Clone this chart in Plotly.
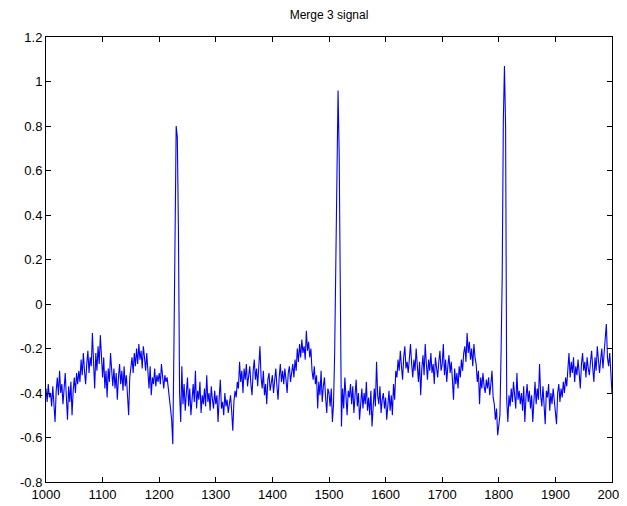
import numpy as np
import plotly.graph_objects as go

# sample index (every 2nd sample from 1000 to 2000)
sample_start = 1000
sample_step = 2

signal = [
    -0.38, -0.44, -0.36, -0.42, -0.40, -0.46, -0.37, -0.43, -0.53, -0.39,
    -0.33, -0.41, -0.30, -0.40, -0.36, -0.45, -0.38, -0.31, -0.42, -0.52,
    -0.37, -0.44, -0.35, -0.50, -0.39, -0.33, -0.40, -0.31, -0.36, -0.30,
    -0.35, -0.25, -0.32, -0.22, -0.30, -0.36, -0.27, -0.21, -0.31, -0.24,
    -0.28, -0.13, -0.26, -0.38, -0.22, -0.30, -0.19, -0.27, -0.14, -0.25,
    -0.33, -0.24, -0.38, -0.30, -0.42, -0.29, -0.35, -0.22, -0.33, -0.37,
    -0.29, -0.38, -0.31, -0.43, -0.33, -0.27, -0.36, -0.30, -0.39, -0.28,
    -0.37, -0.32, -0.41, -0.50, -0.33, -0.27, -0.24, -0.31, -0.22, -0.28,
    -0.20, -0.27, -0.18, -0.25, -0.21, -0.29, -0.19, -0.24, -0.30, -0.22,
    -0.31, -0.38, -0.28, -0.41, -0.33, -0.36, -0.29, -0.37, -0.32, -0.35,
    -0.31, -0.36, -0.27, -0.34, -0.38, -0.32, -0.35, -0.33, -0.37, -0.43,
    -0.47, -0.52, -0.63, -0.20, 0.36, 0.80, 0.75, 0.33, -0.40, -0.53,
    -0.28, -0.45, -0.36, -0.48, -0.40, -0.33, -0.46, -0.38, -0.50, -0.41,
    -0.36, -0.44, -0.30, -0.47, -0.39, -0.43, -0.35, -0.49, -0.41, -0.45,
    -0.38, -0.46, -0.32, -0.44, -0.40, -0.48, -0.37, -0.43, -0.47, -0.39,
    -0.45, -0.41, -0.53, -0.42, -0.34, -0.47, -0.44, -0.50, -0.40, -0.46,
    -0.43, -0.49, -0.45, -0.41, -0.48, -0.57, -0.44, -0.39, -0.42, -0.35,
    -0.38, -0.26, -0.35, -0.30, -0.40, -0.29, -0.34, -0.27, -0.37, -0.31,
    -0.28, -0.36, -0.41, -0.30, -0.25, -0.34, -0.29, -0.37, -0.26, -0.19,
    -0.33, -0.38, -0.30, -0.41, -0.36, -0.45, -0.34, -0.31, -0.39, -0.35,
    -0.32, -0.40, -0.34, -0.29, -0.37, -0.43, -0.33, -0.27, -0.35, -0.30,
    -0.36, -0.29, -0.34, -0.40, -0.31, -0.28, -0.35, -0.30, -0.27, -0.33,
    -0.25, -0.30, -0.20, -0.26, -0.18, -0.24, -0.16, -0.22, -0.19, -0.25,
    -0.12, -0.21, -0.17, -0.24, -0.20, -0.30, -0.34, -0.28, -0.36, -0.32,
    -0.47, -0.35, -0.41, -0.30, -0.44, -0.37, -0.33, -0.42, -0.49, -0.38,
    -0.40, -0.46, -0.38, -0.53, -0.45, -0.22, 0.17, 0.62, 0.96, 0.67,
    -0.10, -0.55, -0.38, -0.47, -0.33, -0.44, -0.50, -0.39, -0.42, -0.36,
    -0.45, -0.37, -0.49, -0.41, -0.34, -0.46, -0.40, -0.52, -0.43, -0.38,
    -0.47, -0.40, -0.45, -0.35, -0.48, -0.42, -0.50, -0.39, -0.55, -0.44,
    -0.38, -0.46, -0.26, -0.41, -0.45, -0.37, -0.49, -0.43, -0.40, -0.47,
    -0.42, -0.52, -0.45, -0.39, -0.48, -0.41, -0.50, -0.36, -0.43, -0.30,
    -0.33, -0.25, -0.30, -0.21, -0.28, -0.34, -0.24, -0.19, -0.29, -0.26,
    -0.31, -0.22, -0.18, -0.27, -0.33, -0.25, -0.30, -0.20, -0.28, -0.35,
    -0.26, -0.41, -0.29, -0.23, -0.32, -0.18, -0.27, -0.34, -0.25, -0.30,
    -0.22, -0.31, -0.27, -0.36, -0.24, -0.29, -0.33, -0.26, -0.21, -0.30,
    -0.27, -0.18, -0.32, -0.25, -0.35, -0.28, -0.23, -0.31, -0.26, -0.34,
    -0.43, -0.29, -0.36, -0.31, -0.38, -0.28, -0.33, -0.25, -0.30, -0.22,
    -0.19, -0.26, -0.13, -0.22, -0.17, -0.25, -0.20, -0.28, -0.18, -0.24,
    -0.27, -0.35, -0.30, -0.45, -0.33, -0.38, -0.31, -0.37, -0.40, -0.34,
    -0.38, -0.33, -0.41, -0.36, -0.30, -0.42, -0.45, -0.52, -0.47, -0.59,
    -0.55, -0.50, -0.22, 0.12, 0.82, 1.07, 0.80, -0.43, -0.53, -0.41,
    -0.46, -0.38, -0.44, -0.35, -0.41, -0.47, -0.31, -0.43, -0.39, -0.45,
    -0.40, -0.48, -0.37, -0.53, -0.42, -0.36, -0.44, -0.39, -0.47, -0.41,
    -0.53, -0.40, -0.35, -0.45, -0.38, -0.43, -0.27, -0.41, -0.46, -0.37,
    -0.44, -0.54, -0.39, -0.42, -0.36, -0.48, -0.40, -0.45, -0.38, -0.43,
    -0.47, -0.54, -0.40, -0.36, -0.44, -0.38, -0.42, -0.35, -0.40, -0.33,
    -0.37, -0.30, -0.22, -0.33, -0.26, -0.31, -0.24, -0.35, -0.28, -0.32,
    -0.25, -0.31, -0.38, -0.27, -0.22, -0.30, -0.26, -0.33, -0.24, -0.29,
    -0.32, -0.26, -0.21, -0.29, -0.35, -0.24, -0.30, -0.19, -0.27, -0.31,
    -0.25, -0.20, -0.29, -0.22, -0.18, -0.09, -0.24, -0.28, -0.22, -0.33,
    -0.40,
]

x_tick_vals = [1000, 1100, 1200, 1300, 1400, 1500, 1600, 1700, 1800, 1900, 2000]
x_tick_text = ["1000", "1100", "1200", "1300", "1400", "1500", "1600", "1700", "1800", "1900", "2000"]
y_tick_vals = [-0.8, -0.6, -0.4, -0.2, 0, 0.2, 0.4, 0.6, 0.8, 1.0, 1.2]
y_tick_text = ["-0.8", "-0.6", "-0.4", "-0.2", "0", "0.2", "0.4", "0.6", "0.8", "1", "1.2"]
title_text = "Merge 3 signal"

x = sample_start + sample_step * np.arange(len(signal))

fig = go.Figure()
fig.add_trace(go.Scatter(x=x, y=signal, mode="lines",
                         line=dict(color="#0000ff", width=1.1), showlegend=False,
                         hoverinfo="skip"))

font_family = "Liberation Sans, Arial, sans-serif"
fig.update_layout(
    width=627, height=506,
    margin=dict(l=38, r=23, t=29, b=32, autoexpand=False),
    paper_bgcolor="white", plot_bgcolor="white",
    font=dict(family=font_family, size=12, color="black"),
    title=dict(text=title_text, x=0.5, xref="paper", xanchor="center",
               y=1 - 7 / 506, yref="container", yanchor="middle",
               font=dict(size=12, family=font_family, color="black")),
)
fig.update_xaxes(range=[1000, 2000], tickmode="array", tickvals=x_tick_vals, ticktext=x_tick_text,
                 ticks="inside", ticklen=5, tickcolor="black", showline=True, linecolor="black",
                 linewidth=1, mirror="ticks", showgrid=False, zeroline=False,
                 tickfont=dict(size=13), automargin=False)
fig.update_yaxes(range=[-0.8, 1.2], tickmode="array", tickvals=y_tick_vals, ticktext=y_tick_text,
                 ticks="inside", ticklen=5, tickcolor="black", showline=True, linecolor="black",
                 linewidth=1, mirror="ticks", showgrid=False, zeroline=False,
                 tickfont=dict(size=13), automargin=False)

fig.write_html("out.html")
